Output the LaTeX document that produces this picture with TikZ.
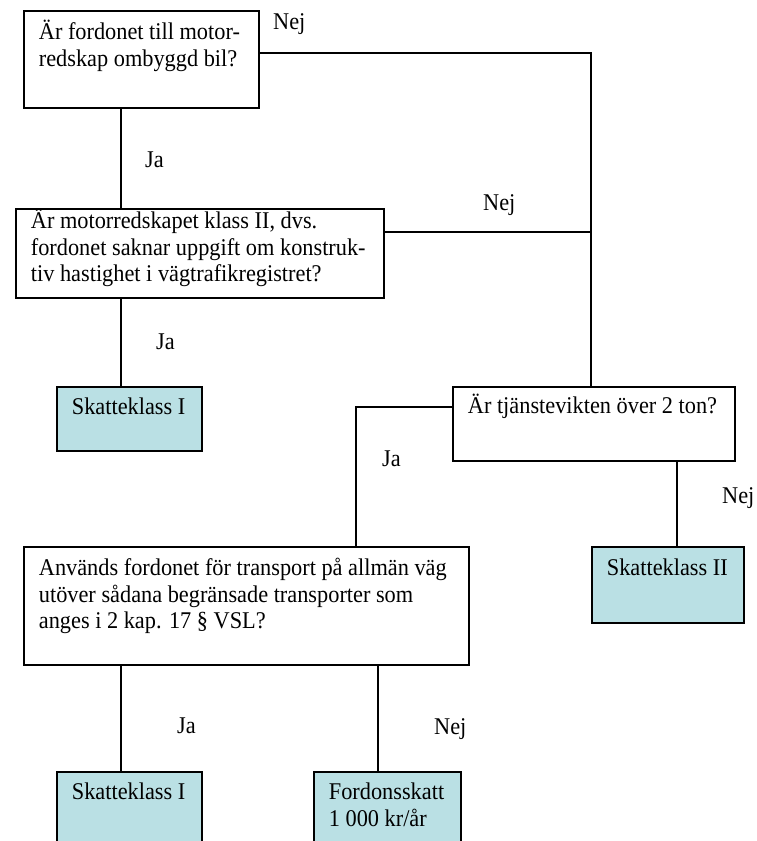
\documentclass[tikz,border=0pt]{standalone}
\usepackage{fontspec}
\setmainfont[FakeStretch=0.93]{Liberation Serif}
\definecolor{boxfill}{RGB}{186,224,228}
\tikzset{
  qbox/.style={draw=black, line width=1.8pt, inner xsep=15pt, inner ysep=0pt, anchor=north west},
  kbox/.style={qbox, fill=boxfill},
  conn/.style={draw=black, line width=1.2pt},
  lbl/.style={anchor=base west, inner sep=0pt, font=\fontsize{24}{26}\selectfont},
}
% #1 text width, #2 box height, #3 first baseline from top, #4 text
\newcommand{\boxtext}[4]{\parbox[c][#2pt][t]{#1pt}{\raggedright\fontsize{24}{26.2}\selectfont\rule{0pt}{#3pt}#4}}
\begin{document}
\begin{tikzpicture}[x=1pt, y=-1pt]
\useasboundingbox (0,0) rectangle (757,841);
\clip (0,0) rectangle (757,841);
\fill[white] (0,0) rectangle (757,841);

% boxes
\node[qbox] (q1) at (23,10) {\boxtext{205}{97}{29}{Är fordonet till motor-\\redskap ombyggd bil?}};
\node[qbox] (q2) at (15,208) {\boxtext{338}{89}{20}{Är motorredskapet klass II, dvs.\\fordonet saknar uppgift om konstruk-\\tiv hastighet i vägtrafikregistret?}};
\node[kbox] (k1) at (56,386) {\boxtext{115}{64}{28}{Skatteklass I}};
\node[qbox] (q3) at (452,386) {\boxtext{252}{74}{27}{Är tjänstevikten över 2 ton?}};
\node[kbox] (k2) at (591,546) {\boxtext{122}{76}{29}{Skatteklass II}};
\node[qbox] (q4) at (23,546) {\boxtext{415}{118}{29}{Används fordonet för transport på allmän väg\\utöver sådana begränsade transporter som\\anges i 2 kap. 17 § VSL?}};
\node[kbox] (k3) at (56,771) {\boxtext{115}{95}{28}{Skatteklass I}};
\node[kbox] (k4) at (313,771) {\boxtext{117}{95}{28}{Fordonsskatt\\1 000 kr/år}};

% helper coordinates for connector positions
\coordinate (xa) at (121,0);
\coordinate (xb) at (356,0);
\coordinate (xc) at (677,0);
\coordinate (xd) at (378,0);
\coordinate (j) at (591,232);

% connectors
\draw[conn] ([yshift=-43pt]q1.north east) -| (j) -- (j |- q3.north);
\draw[conn] (q2.east |- j) -- (j);
\draw[conn] (q1.south -| xa) -- (q2.north -| xa);
\draw[conn] (q2.south -| xa) -- (k1.north -| xa);
\draw[conn] ([yshift=-21pt]q3.north west) -| (q4.north -| xb);
\draw[conn] (q3.south -| xc) -- (k2.north -| xc);
\draw[conn] (q4.south -| xa) -- (k3.north -| xa);
\draw[conn] (q4.south -| xd) -- (k4.north -| xd);

% labels
\node[lbl] (l1) at (273,29) {Nej};
\node[lbl] (l2) at (145,167) {Ja};
\node[lbl] (l3) at (483,210) {Nej};
\node[lbl] (l4) at (156,349) {Ja};
\node[lbl] (l5) at (382,466) {Ja};
\node[lbl] (l6) at (722,503) {Nej};
\node[lbl] (l7) at (177,733) {Ja};
\node[lbl] (l8) at (434,734) {Nej};
\end{tikzpicture}
\end{document}
